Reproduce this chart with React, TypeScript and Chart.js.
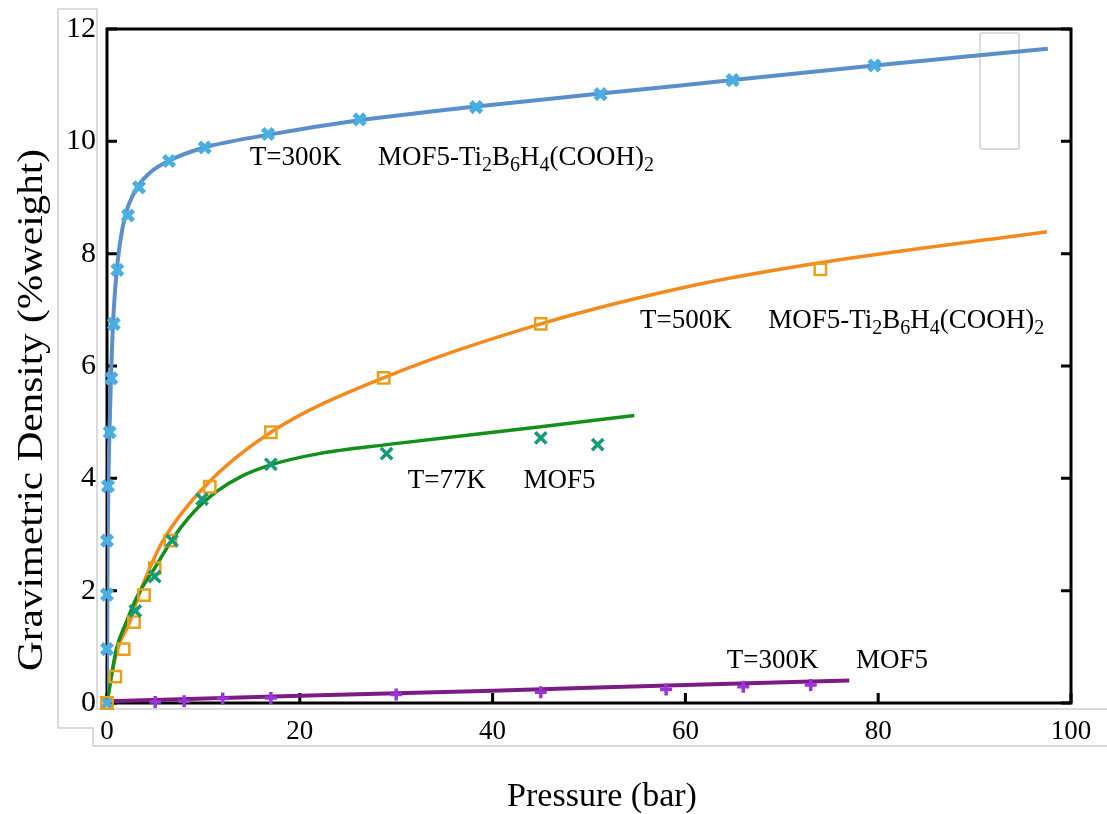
import React, { useEffect, useRef } from 'react';
import { Chart, registerables } from 'chart.js';
Chart.register(...registerables);

const FONT = "'Liberation Serif', 'Times New Roman', Times, serif";

const xTickValues = [0, 20, 40, 60, 80, 100];
const yTickValues = [0, 2, 4, 6, 8, 10, 12];

// T=300K MOF5-Ti2B6H4(COOH)2 : measured points
const tiCoolP = [0, 0, 0, 0.01, 0.1, 0.28, 0.45, 0.7, 1.08, 2.18, 3.32, 6.44, 10.14, 16.7, 26.2, 38.3, 51.2, 64.9, 79.6];
const tiCoolW = [0, 0.96, 1.93, 2.89, 3.86, 4.82, 5.78, 6.75, 7.71, 8.68, 9.18, 9.65, 9.89, 10.13, 10.39, 10.61, 10.84, 11.09, 11.35];
// fitted curve
const tiCoolFitP = [0, 0.02, 0.04, 0.08, 0.15, 0.28, 0.45, 0.7, 1.1, 1.6, 2.2, 3.2, 4.5, 6.5, 10.1, 16.5, 26, 38.3, 51.2, 64.9, 79.6, 97.6];
const tiCoolFitW = [0, 1, 2, 3, 4, 5, 6, 7, 7.85, 8.45, 8.85, 9.2, 9.45, 9.66, 9.89, 10.11, 10.37, 10.62, 10.85, 11.09, 11.35, 11.65];

// T=500K MOF5-Ti2B6H4(COOH)2
const tiHotP = [0, 0.87, 1.73, 2.8, 3.84, 4.95, 6.58, 10.66, 17.0, 28.7, 45.0, 74.0];
const tiHotW = [0, 0.47, 0.96, 1.44, 1.92, 2.4, 2.89, 3.85, 4.82, 5.79, 6.75, 7.72];
const tiHotFitP = [0, 0.45, 1.1, 2.36, 3.3, 4.43, 5.8, 10.1, 17, 28.7, 45, 61.5, 74, 97.5];
const tiHotFitW = [0, 0.47, 0.96, 1.44, 1.92, 2.4, 2.89, 3.85, 4.82, 5.79, 6.75, 7.46, 7.84, 8.39];

// T=77K MOF5
const mofColdP = [2.94, 4.95, 6.75, 9.86, 17.0, 29.0, 45.0, 50.9];
const mofColdW = [1.64, 2.25, 2.89, 3.63, 4.25, 4.44, 4.72, 4.6];
const mofColdFitP = [0, 0.97, 2.0, 3.2, 4.95, 6.68, 9.0, 11.5, 14, 17, 22, 29, 45, 54.7];
const mofColdFitW = [0, 0.96, 1.44, 1.92, 2.4, 2.89, 3.4, 3.78, 4.04, 4.24, 4.44, 4.6, 4.92, 5.12];

// T=300K MOF5
const mofRoomP = [5, 8, 12, 17, 30, 45, 58, 66, 73];
const mofRoomW = [0.02, 0.03, 0.08, 0.09, 0.15, 0.19, 0.24, 0.29, 0.32];
const mofRoomFitP = [0, 20, 40, 60, 77];
const mofRoomFitW = [0.03, 0.13, 0.22, 0.32, 0.4];

// annotations (data coords: x of temperature, x of material, baseline y)
const annoTemp = ['T=300K', 'T=500K', 'T=77K', 'T=300K'];
const annoMat = ['MOF5-Ti_2B_6H_4(COOH)_2', 'MOF5-Ti_2B_6H_4(COOH)_2', 'MOF5', 'MOF5'];
const annoX1 = [14.8, 55.3, 31.2, 64.3];
const annoX2 = [28.1, 68.6, 43.2, 77.7];
const annoY = [9.58, 6.68, 3.83, 0.63];

const xTitle = 'Pressure (bar)';
const yTitle = 'Gravimetric Density (%weight)';

const pts = (xs: number[], ys: number[]) => xs.map((x, i) => ({ x, y: ys[i] }));

function drawRich(ctx: CanvasRenderingContext2D, text: string, x: number, y: number) {
  let cx = x;
  let i = 0;
  while (i < text.length) {
    let sub = false;
    let t = '';
    if (text[i] === '_') {
      sub = true;
      t = text[i + 1];
      i += 2;
    } else {
      while (i < text.length && text[i] !== '_') {
        t += text[i];
        i++;
      }
    }
    ctx.font = sub ? `20px ${FONT}` : `27px ${FONT}`;
    ctx.fillText(t, cx, y + (sub ? 6 : 0));
    cx += ctx.measureText(t).width;
  }
}

const decorPlugin = {
  id: 'decor',
  beforeDraw(chart: any) {
    const ctx = chart.ctx as CanvasRenderingContext2D;
    ctx.save();
    ctx.fillStyle = '#fff';
    ctx.fillRect(0, 0, chart.width, chart.height);
    // faint grey compositing borders
    ctx.strokeStyle = '#cfcfcf';
    ctx.lineWidth = 1.5;
    ctx.beginPath();
    ctx.moveTo(97, 709); ctx.lineTo(97, 9); ctx.lineTo(58, 9); ctx.lineTo(58, 728); ctx.lineTo(93, 728);
    ctx.lineTo(93, 746); ctx.lineTo(1107, 746);
    ctx.moveTo(97, 709); ctx.lineTo(1107, 709);
    ctx.stroke();
    ctx.beginPath();
    ctx.roundRect(980, 33, 39, 116, 2);
    ctx.stroke();
    ctx.restore();
  },
  beforeDatasetsDraw(chart: any) {
    const ctx = chart.ctx as CanvasRenderingContext2D;
    const { left, right, top, bottom } = chart.chartArea;
    const xs = chart.scales.x;
    const ys = chart.scales.y;
    ctx.save();
    ctx.strokeStyle = '#000';
    ctx.lineWidth = 3;
    ctx.strokeRect(left, top, right - left, bottom - top);
    ctx.beginPath();
    xTickValues.forEach((v) => {
      const px = xs.getPixelForValue(v);
      ctx.moveTo(px, bottom);
      ctx.lineTo(px, bottom - 10);
    });
    yTickValues.forEach((v) => {
      const py = ys.getPixelForValue(v);
      ctx.moveTo(left, py);
      ctx.lineTo(left + 10, py);
      ctx.moveTo(right, py);
      ctx.lineTo(right - 10, py);
    });
    ctx.stroke();
    ctx.restore();
  },
  afterDatasetsDraw(chart: any) {
    const ctx = chart.ctx as CanvasRenderingContext2D;
    const xs = chart.scales.x;
    const ys = chart.scales.y;
    ctx.save();
    // annotations
    ctx.fillStyle = '#000';
    ctx.textAlign = 'left';
    ctx.textBaseline = 'alphabetic';
    annoTemp.forEach((t, i) => {
      const by = ys.getPixelForValue(annoY[i]);
      drawRich(ctx, t, xs.getPixelForValue(annoX1[i]), by);
      drawRich(ctx, annoMat[i], xs.getPixelForValue(annoX2[i]), by);
    });

    // axis titles
    ctx.textAlign = 'center';
    ctx.textBaseline = 'middle';
    ctx.font = `34px ${FONT}`;
    ctx.fillText(xTitle, 602, 797);
    ctx.save();
    ctx.translate(33, 410);
    ctx.rotate(-Math.PI / 2);
    ctx.font = `36px ${FONT}`;
    const w = ctx.measureText(yTitle).width;
    ctx.scale(522 / w, 1);
    ctx.fillText(yTitle, 0, 0);
    ctx.restore();
    ctx.restore();
  },
};

export default function App() {
  const ref = useRef<HTMLCanvasElement>(null);
  useEffect(() => {
    const canvas = ref.current!;
    const lineDs = (xs: number[], ys: number[], color: string, width: number) => ({
      data: pts(xs, ys),
      showLine: true,
      borderColor: color,
      borderWidth: width,
      pointRadius: 0,
      cubicInterpolationMode: 'monotone' as const,
      order: 2,
    });
    const markDs = (xs: number[], ys: number[], color: string, style: string, r: number, bw: number) => ({
      data: pts(xs, ys),
      showLine: false,
      pointStyle: style,
      pointRadius: r,
      pointBorderColor: color,
      pointBackgroundColor: style === 'rect' ? 'rgba(0,0,0,0)' : color,
      pointBorderWidth: bw,
      borderColor: color,
      clip: false,
      order: 1,
    });
    const chart = new Chart(canvas, {
      type: 'scatter',
      data: {
        datasets: [
          markDs(mofRoomP, mofRoomW, '#9a35d6', 'cross', 6, 3.5),
          markDs(mofColdP, mofColdW, '#159a7c', 'crossRot', 8, 3.5),
          markDs(tiHotP, tiHotW, '#e6a01c', 'rect', 8, 2.5),
          markDs(tiCoolP, tiCoolW, '#4aaee3', 'crossRot', 7.5, 5),
          lineDs(mofRoomFitP, mofRoomFitW, '#7b1c85', 4),
          lineDs(mofColdFitP, mofColdFitW, '#138f1b', 3.5),
          lineDs(tiHotFitP, tiHotFitW, '#f28a1e', 3.5),
          lineDs(tiCoolFitP, tiCoolFitW, '#5a8fcb', 4),
        ] as any,
      },
      options: {
        animation: false,
        responsive: false,
        devicePixelRatio: 1,
        layout: { padding: { left: 0, right: 36, top: 20, bottom: 0 } },
        plugins: { legend: { display: false }, tooltip: { enabled: false } },
        scales: {
          x: {
            type: 'linear',
            min: 0,
            max: 100,
            afterBuildTicks: (s: any) => {
              s.ticks = xTickValues.map((v) => ({ value: v }));
            },
            afterFit: (s: any) => {
              s.height = 111;
            },
            grid: { display: false, drawTicks: false },
            border: { display: false },
            ticks: { font: { family: FONT, size: 27 }, color: '#000', padding: 13, maxRotation: 0, autoSkip: false },
          },
          y: {
            type: 'linear',
            min: 0,
            max: 12,
            afterBuildTicks: (s: any) => {
              s.ticks = yTickValues.map((v) => ({ value: v }));
            },
            afterFit: (s: any) => {
              s.width = 107;
            },
            grid: { display: false, drawTicks: false },
            border: { display: false },
            ticks: { font: { family: FONT, size: 30 }, color: '#000', padding: 11, autoSkip: false },
          },
        },
      },
      plugins: [decorPlugin],
    });
    return () => chart.destroy();
  }, []);
  return (
    <div style={{ position: 'fixed', left: 0, top: 0, width: 1107, height: 814, background: '#fff' }}>
      <canvas ref={ref} width={1107} height={814} style={{ width: 1107, height: 814, display: 'block' }} />
    </div>
  );
}
